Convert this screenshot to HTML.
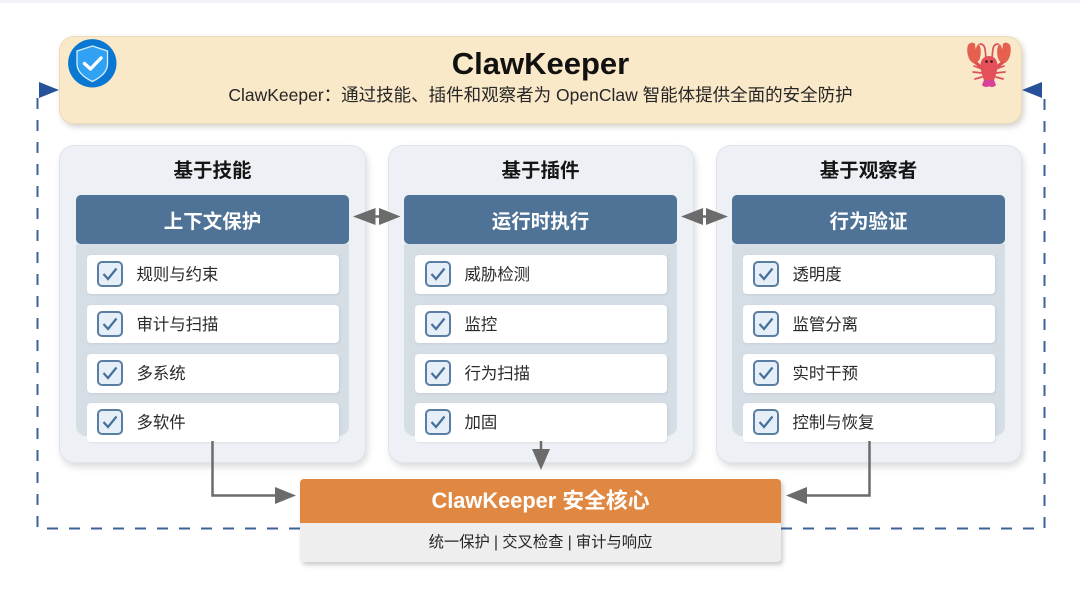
<!DOCTYPE html>
<html lang="zh">
<head>
<meta charset="utf-8">
<style>
html,body{margin:0;padding:0;background:#fff}
body{width:1080px;height:598px;position:relative;overflow:hidden;font-family:"Liberation Sans","Noto Sans CJK SC",sans-serif;color:#222}
.a{position:absolute;box-sizing:border-box}
.t{position:absolute;white-space:nowrap;text-align:center}
.panel{background:#edf1f5;border:1px solid #e0e4e9;border-radius:15px;top:145px;height:318px;box-shadow:2px 4px 7px rgba(70,80,95,.2)}
.head{background:#4e7397;border-radius:5px;top:195px;width:273px;height:49px;color:#fff;font-size:19.500px;font-weight:bold;line-height:55px;text-align:center}
.well{background:#d5dde5;top:244px;width:273px;height:192px;border-radius:0 0 10px 10px}
.item{background:#fff;border-radius:4px;width:251.500px;height:38.500px;font-size:16.400px;line-height:41px;padding-left:49.500px;color:#2a2a2a;box-shadow:1px 1px 2px rgba(70,80,95,.1)}
.item svg{position:absolute;left:10px;top:6px}
.ptitle{top:158px;width:307px;font-size:19.500px;font-weight:bold;line-height:27px;color:#151515}
</style>
</head>
<body>
<div class="a" style="left:0;top:0;width:1080px;height:2.5px;background:#f2f3fb"></div>

<div class="a" style="left:59px;top:36px;width:963px;height:87.5px;background:#fae9c8;border:1px solid #ecdcb9;border-radius:15px;box-shadow:2px 3px 6px rgba(90,80,60,.25)"></div>
<div class="t" style="left:59px;top:44px;width:963px;font-size:31px;font-weight:bold;line-height:40px;color:#111">ClawKeeper</div>
<div class="t" style="left:59px;top:83px;width:963px;font-size:17.500px;line-height:24px;color:#262626">ClawKeeper：通过技能、插件和观察者为 OpenClaw 智能体提供全面的安全防护</div>

<svg class="a" style="left:68px;top:39px" width="49" height="49" viewBox="0 0 49 49">
<circle cx="24.3" cy="24.3" r="24.2" fill="#0a78d2"/>
<path d="M24.3 7 L39.500 12 V25 C39.500 33 32.500 38.500 24.3 42.500 C16.100 38.500 9 33 9 25 V12 Z" fill="#31a1f3" stroke="#d8eefc" stroke-width="1.300"/>
<path d="M16.500 24.500 L22.500 30 L33 19" fill="none" stroke="#fff" stroke-width="3.400" stroke-linecap="round" stroke-linejoin="round"/>
</svg>

<svg class="a" style="left:966px;top:41px" width="46" height="47" viewBox="0 0 46 47">
<g fill="none" stroke="#dc4f5f" stroke-width="1.700" stroke-linecap="round">
<path d="M20 17 C19 10 20 3 14 3"/><path d="M26 17 C27 10 26 3 32 3"/>
<path d="M16 28 L8 25"/><path d="M30 28 L38 25"/>
<path d="M16 32 L7 31"/><path d="M30 32 L39 31"/>
<path d="M16 36 L9 38"/><path d="M30 36 L37 38"/>
</g>
<path d="M2 4 C4 1 8 1 9 3 L9.500 8 L12 3 C15 4 15.500 12 14 17 C13 21 9 23 7 22 C2 19 0 10 2 4Z" fill="#e5604f"/>
<path d="M44 4 C42 1 38 1 37 3 L36.500 8 L34 3 C31 4 30.500 12 32 17 C33 21 37 23 39 22 C44 19 46 10 44 4Z" fill="#e5604f"/>
<path d="M9 21 L17 28 M37 21 L29 28" stroke="#e04f50" stroke-width="3.200"/>
<path d="M23 15 C30 15 33 22 31 29 C30 35 28 39 27 42 L19 42 C18 39 16 35 15 29 C13 22 16 15 23 15Z" fill="#e4505a"/>
<path d="M18 39 H28 L30 44 C28 46.800 24.500 46 23 45.300 C21.500 46 18 46.800 16 44Z" fill="#d8419a"/>
<circle cx="20.500" cy="20.500" r="1.300" fill="#3a1a1a"/><circle cx="25.500" cy="20.500" r="1.300" fill="#3a1a1a"/>
</svg>

<div class="a panel" style="left:59px;width:307px"></div>
<div class="a panel" style="left:388px;width:306px"></div>
<div class="a panel" style="left:716px;width:306px"></div>

<div class="t ptitle" style="left:59px">基于技能</div>
<div class="t ptitle" style="left:387px">基于插件</div>
<div class="t ptitle" style="left:715px">基于观察者</div>

<div class="a well" style="left:76px"></div>
<div class="a well" style="left:404px"></div>
<div class="a well" style="left:732px"></div>

<div class="a head" style="left:76px">上下文保护</div>
<div class="a head" style="left:404px">运行时执行</div>
<div class="a head" style="left:732px">行为验证</div>

<div class="a item" style="left:87px;top:255px"><svg width="26" height="26" viewBox="0 0 26 26"><rect x="1" y="1" width="24" height="24" rx="4" fill="#e6eff8" stroke="#5a7ea3" stroke-width="2"/><path d="M6.500 13 L11 18 L19.500 7.500" fill="none" stroke="#45709c" stroke-width="2.2"/></svg>规则与约束</div>
<div class="a item" style="left:87px;top:304.500px"><svg width="26" height="26" viewBox="0 0 26 26"><rect x="1" y="1" width="24" height="24" rx="4" fill="#e6eff8" stroke="#5a7ea3" stroke-width="2"/><path d="M6.500 13 L11 18 L19.500 7.500" fill="none" stroke="#45709c" stroke-width="2.2"/></svg>审计与扫描</div>
<div class="a item" style="left:87px;top:354px"><svg width="26" height="26" viewBox="0 0 26 26"><rect x="1" y="1" width="24" height="24" rx="4" fill="#e6eff8" stroke="#5a7ea3" stroke-width="2"/><path d="M6.500 13 L11 18 L19.500 7.500" fill="none" stroke="#45709c" stroke-width="2.2"/></svg>多系统</div>
<div class="a item" style="left:87px;top:403px"><svg width="26" height="26" viewBox="0 0 26 26"><rect x="1" y="1" width="24" height="24" rx="4" fill="#e6eff8" stroke="#5a7ea3" stroke-width="2"/><path d="M6.500 13 L11 18 L19.500 7.500" fill="none" stroke="#45709c" stroke-width="2.2"/></svg>多软件</div>

<div class="a item" style="left:415px;top:255px"><svg width="26" height="26" viewBox="0 0 26 26"><rect x="1" y="1" width="24" height="24" rx="4" fill="#e6eff8" stroke="#5a7ea3" stroke-width="2"/><path d="M6.500 13 L11 18 L19.500 7.500" fill="none" stroke="#45709c" stroke-width="2.2"/></svg>威胁检测</div>
<div class="a item" style="left:415px;top:304.500px"><svg width="26" height="26" viewBox="0 0 26 26"><rect x="1" y="1" width="24" height="24" rx="4" fill="#e6eff8" stroke="#5a7ea3" stroke-width="2"/><path d="M6.500 13 L11 18 L19.500 7.500" fill="none" stroke="#45709c" stroke-width="2.2"/></svg>监控</div>
<div class="a item" style="left:415px;top:354px"><svg width="26" height="26" viewBox="0 0 26 26"><rect x="1" y="1" width="24" height="24" rx="4" fill="#e6eff8" stroke="#5a7ea3" stroke-width="2"/><path d="M6.500 13 L11 18 L19.500 7.500" fill="none" stroke="#45709c" stroke-width="2.2"/></svg>行为扫描</div>
<div class="a item" style="left:415px;top:403px"><svg width="26" height="26" viewBox="0 0 26 26"><rect x="1" y="1" width="24" height="24" rx="4" fill="#e6eff8" stroke="#5a7ea3" stroke-width="2"/><path d="M6.500 13 L11 18 L19.500 7.500" fill="none" stroke="#45709c" stroke-width="2.2"/></svg>加固</div>

<div class="a item" style="left:743px;top:255px"><svg width="26" height="26" viewBox="0 0 26 26"><rect x="1" y="1" width="24" height="24" rx="4" fill="#e6eff8" stroke="#5a7ea3" stroke-width="2"/><path d="M6.500 13 L11 18 L19.500 7.500" fill="none" stroke="#45709c" stroke-width="2.2"/></svg>透明度</div>
<div class="a item" style="left:743px;top:304.500px"><svg width="26" height="26" viewBox="0 0 26 26"><rect x="1" y="1" width="24" height="24" rx="4" fill="#e6eff8" stroke="#5a7ea3" stroke-width="2"/><path d="M6.500 13 L11 18 L19.500 7.500" fill="none" stroke="#45709c" stroke-width="2.2"/></svg>监管分离</div>
<div class="a item" style="left:743px;top:354px"><svg width="26" height="26" viewBox="0 0 26 26"><rect x="1" y="1" width="24" height="24" rx="4" fill="#e6eff8" stroke="#5a7ea3" stroke-width="2"/><path d="M6.500 13 L11 18 L19.500 7.500" fill="none" stroke="#45709c" stroke-width="2.2"/></svg>实时干预</div>
<div class="a item" style="left:743px;top:403px"><svg width="26" height="26" viewBox="0 0 26 26"><rect x="1" y="1" width="24" height="24" rx="4" fill="#e6eff8" stroke="#5a7ea3" stroke-width="2"/><path d="M6.500 13 L11 18 L19.500 7.500" fill="none" stroke="#45709c" stroke-width="2.2"/></svg>控制与恢复</div>

<svg class="a" style="left:0;top:0" width="1080" height="598" viewBox="0 0 1080 598">
<g fill="none" stroke="#3d6298" stroke-width="2" stroke-dasharray="11 11">
<path d="M300 528.500 H37.500 V98"/>
<path d="M781 528.500 H1044.500 V98"/>
</g>
<path d="M39 82 L59 90 L39 98 Z" fill="#27529a"/>
<path d="M1022 90 L1042 82 L1042 98 Z" fill="#27529a"/>
<g fill="none" stroke="#6b6b6b" stroke-width="2.500">
<path d="M212.500 441 V495.500 H276"/>
<path d="M869.500 441 V495.500 H806"/>
<path d="M541 441 V450"/>
<path d="M372 216.500 H383"/>
<path d="M700 216.500 H711"/>
</g>
<g fill="#6b6b6b">
<path d="M275 487 L296 495.500 L275 504 Z"/>
<path d="M786 495.500 L807 487 L807 504 Z"/>
<path d="M532 449 H550 L541 470 Z"/>
<path d="M353 216.500 L375.500 208 V225 Z"/>
<path d="M400.500 216.500 L379 208 V225 Z"/>
<path d="M681 216.500 L703 208 V225 Z"/>
<path d="M728 216.500 L706 208 V225 Z"/>
</g>
</svg>

<div class="a" style="left:300px;top:479px;width:481px;height:83px;background:#eeeeee;border-radius:4px;box-shadow:2px 3px 5px rgba(70,70,70,.28)"></div>
<div class="a" style="left:300px;top:479px;width:481px;height:44px;background:#e08842;border-radius:4px 4px 0 0;color:#fff;font-size:21.800px;font-weight:bold;line-height:43px;text-align:center">ClawKeeper 安全核心</div>
<div class="t" style="left:300px;top:532px;width:481px;font-size:15.300px;line-height:22px;color:#262626">统一保护 | 交叉检查 | 审计与响应</div>
</body>
</html>
